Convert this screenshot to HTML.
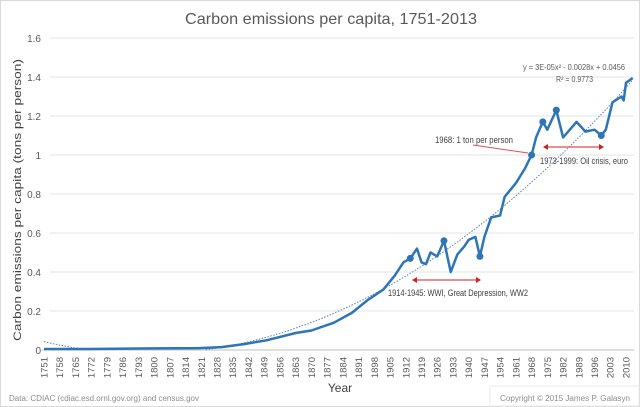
<!DOCTYPE html>
<html><head><meta charset="utf-8"><style>
body{margin:0;background:#fff;}
svg{display:block;font-family:"Liberation Sans",sans-serif;}
</style></head><body>
<svg id="chart" width="640" height="407">
<rect x="0.5" y="0.5" width="639" height="406" fill="#fff" stroke="#d9d9d9"/>
<text x="331" y="24" text-anchor="middle" font-size="16" fill="#595959" textLength="292" lengthAdjust="spacingAndGlyphs">Carbon emissions per capita, 1751-2013</text>
<g id="grid"></g><g id="yticks"></g><g id="xticks"></g>
<path id="trend" fill="none" stroke="#5b7fb5" stroke-width="1" stroke-dasharray="1.5,1.5"/>
<path id="series" fill="none" stroke="#2e75b6" stroke-width="2.5" stroke-linejoin="round"/>
<g id="markers"></g>
<text x="21" y="200" transform="rotate(-90 21 200)" text-anchor="middle" font-size="11" fill="#404040" textLength="282" lengthAdjust="spacingAndGlyphs">Carbon emissions per capita (tons per person)</text>
<text x="340" y="392" text-anchor="middle" font-size="12" fill="#404040">Year</text>
<text x="523" y="70" font-size="8" fill="#595959" textLength="102" lengthAdjust="spacingAndGlyphs">y = 3E-05x² - 0.0028x + 0.0456</text>
<text x="556" y="82" font-size="8" fill="#595959" textLength="37" lengthAdjust="spacingAndGlyphs">R² = 0.9773</text>
<text x="435" y="143" font-size="9" fill="#404040" textLength="78" lengthAdjust="spacingAndGlyphs">1968: 1 ton per person</text>
<line x1="473" y1="145" x2="528" y2="153" stroke="#e05050" stroke-width="1"/>
<g stroke="#d02020" fill="#d02020">
<line x1="546" y1="147" x2="601" y2="147"/><path d="M543 147 l5 -3 v6z M604 147 l-5 -3 v6z" stroke="none"/></g>
<text x="540" y="164" font-size="9" fill="#404040" textLength="88" lengthAdjust="spacingAndGlyphs">1973-1999: Oil crisis, euro</text>
<g stroke="#d02020" fill="#d02020">
<line x1="415" y1="280" x2="478" y2="280"/><path d="M412 280 l5 -3 v6z M481 280 l-5 -3 v6z" stroke="none"/></g>
<text x="388" y="296" font-size="9" fill="#404040" textLength="140" lengthAdjust="spacingAndGlyphs">1914-1945: WWI, Great Depression, WW2</text>
<text x="9" y="401" font-size="8" fill="#8c8c8c" textLength="190" lengthAdjust="spacingAndGlyphs">Data: CDIAC (cdiac.esd.ornl.gov.org)  and census.gov</text>
<rect x="490" y="386" width="149" height="20" fill="none" stroke="#e8e8e8"/>
<text x="630" y="401" text-anchor="end" font-size="8" fill="#8c8c8c" textLength="130" lengthAdjust="spacingAndGlyphs">Copyright © 2015 James P. Galasyn</text>
</svg>
<script>
const years=[1751,1770,1800,1820,1830,1840,1850,1863,1870,1880,1888,1895,1902,1907,1911,1914,1917,1919,1921,1923,1926,1929,1932,1935,1938,1940,1943,1945,1947,1950,1954,1956,1961,1965,1968,1970,1973,1975,1977,1979,1982,1985,1988,1992,1996,1999,2001,2004,2008,2009,2010,2013];
const values=[0.005,0.005,0.008,0.01,0.015,0.03,0.05,0.087,0.1,0.14,0.19,0.256,0.31,0.38,0.45,0.47,0.52,0.45,0.44,0.50,0.48,0.56,0.40,0.49,0.53,0.565,0.58,0.48,0.58,0.68,0.69,0.785,0.856,0.93,1.0,1.09,1.17,1.13,1.18,1.23,1.09,1.13,1.17,1.12,1.13,1.10,1.13,1.27,1.30,1.28,1.37,1.395];
const markerYears=[1914,1929,1945,1968,1973,1979,1999];
const yTicks=[0,0.2,0.4,0.6,0.8,1,1.2,1.4,1.6];
const trendCoef=[3e-5,-0.0028,0.0456];
const NS="http://www.w3.org/2000/svg";
const X0=44,XS=2.247,Y0=350,YS=195;
const xs=y=>X0+(y-1751)*XS, ys=v=>Y0-v*YS;
const grid=document.getElementById('grid'),yt=document.getElementById('yticks'),xt=document.getElementById('xticks');
yTicks.forEach(t=>{
 const l=document.createElementNS(NS,'line');
 l.setAttribute('x1',t===0?42:50);l.setAttribute('x2',634);l.setAttribute('y1',ys(t));l.setAttribute('y2',ys(t));
 l.setAttribute('stroke',t===0?'#bfbfbf':'#e3e3e3');
 
 
 grid.appendChild(l);
 const tx=document.createElementNS(NS,'text');
 tx.setAttribute('x',41);tx.setAttribute('y',ys(t)+4);tx.setAttribute('text-anchor','end');
 tx.setAttribute('font-size','10');tx.setAttribute('fill','#595959');tx.textContent=t;
 
 
 yt.appendChild(tx);
});
for(let y=1751;y<=2013;y+=7){
 const tx=document.createElementNS(NS,'text');
 const x=xs(y)+3.5,yy=357;
 tx.setAttribute('x',x);tx.setAttribute('y',yy);tx.setAttribute('transform',`rotate(-90 ${x} ${yy})`);
 tx.setAttribute('text-anchor','end');tx.setAttribute('font-size','9.5');tx.setAttribute('fill','#595959');tx.textContent=y;
 
 
 xt.appendChild(tx);
}
let d='';years.forEach((y,i)=>d+=(i?'L':'M')+xs(y).toFixed(1)+' '+ys(values[i]).toFixed(1));
document.getElementById('series').setAttribute('d',d);
let td='',pen=false;
for(let i=1;i<=263;i++){const v=trendCoef[0]*i*i+trendCoef[1]*i+trendCoef[2];
 if(v<0){pen=false;continue;} td+=(pen?'L':'M')+xs(1750+i).toFixed(1)+' '+ys(v).toFixed(1);pen=true;}
document.getElementById('trend').setAttribute('d',td);
const mg=document.getElementById('markers');
markerYears.forEach(y=>{const i=years.indexOf(y);
 const c=document.createElementNS(NS,'circle');
 c.setAttribute('cx',xs(y));c.setAttribute('cy',ys(values[i]));c.setAttribute('r',3.5);c.setAttribute('fill','#2e75b6');
 
 
 mg.appendChild(c);});
</script>
</body></html>
